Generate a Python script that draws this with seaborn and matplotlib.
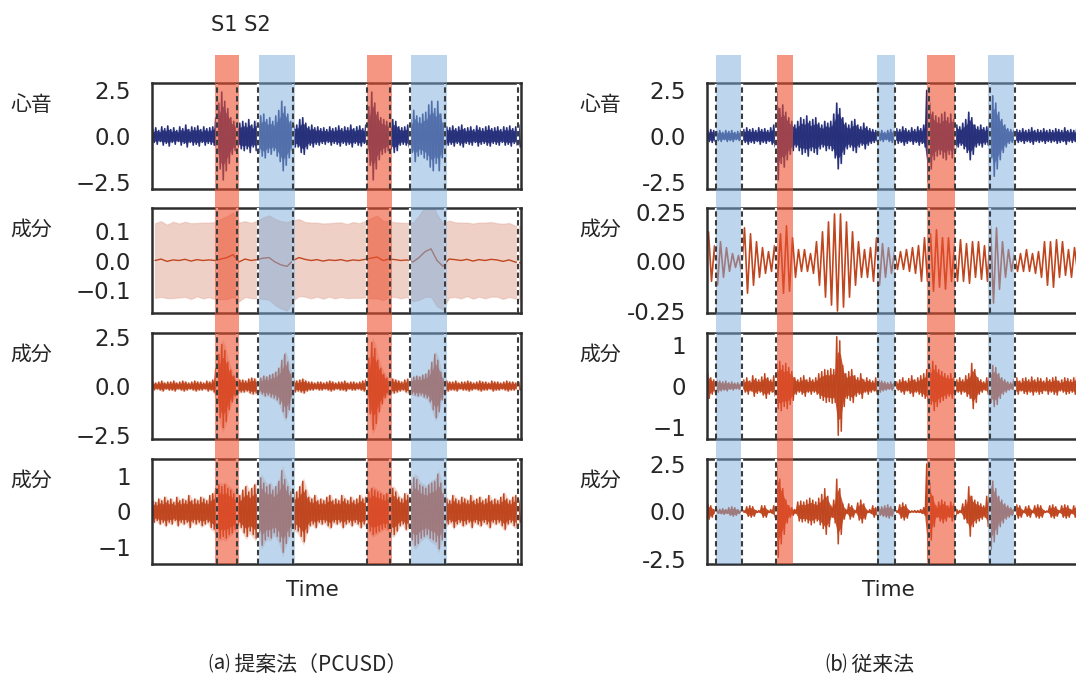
import numpy as np
import matplotlib
matplotlib.use("Agg")
import matplotlib.pyplot as plt
import seaborn as sns

# ------------------------------------------------------------------ data
# envelope (peak amplitude per 0.03 s bin)
left_heart = [0.35,0.45,0.3,0.5,0.4,0.55,0.35,0.45,0.3,0.5,0.4,0.6,0.35,0.5,0.45,0.55,0.35,0.5,0.4,0.45,0.5,
              1.0,1.8,2.4,1.9,1.5,1.0,0.8,0.6,0.7,
              0.8,0.7,0.9,0.6,0.8,0.9,
              1.1,1.2,0.9,1.0,0.8,1.1,1.4,1.9,1.6,1.2,0.8,0.6,
              0.6,0.9,1.0,0.7,0.5,0.6,0.45,0.5,0.4,0.45,0.35,0.5,0.4,0.45,0.55,0.4,0.5,0.45,0.6,0.4,0.5,0.55,0.4,0.6,
              1.6,2.4,1.8,1.3,1.0,0.9,0.8,0.7,
              0.9,0.8,0.5,0.45,0.5,0.6,
              0.9,1.4,1.1,1.0,1.2,1.3,1.7,1.9,1.5,1.9,1.2,0.7,
              0.5,0.45,0.55,0.4,0.5,0.6,0.4,0.45,0.5,0.35,0.55,0.45,0.4,0.5,0.55,0.4,0.45,0.5,0.35,0.5,0.45,0.55,0.4,0.5,0.6]
left_comp_mean = [0.0,0.005,-0.003,0.002,0.0,0.004,-0.002,0.003,0.0,0.002,0.0,0.005,0.01,0.02,-0.005,0.005,
                  0.0,0.003,0.008,0.01,-0.005,-0.015,-0.02,0.0,0.01,0.004,0.0,0.003,-0.002,0.002,0.0,0.003,
                  -0.002,0.002,0.0,0.004,0.008,0.012,0.0,0.005,0.003,0.0,0.002,-0.005,0.01,0.03,0.04,0.0,
                  -0.02,0.005,0.003,0.0,0.004,-0.002,0.003,0.0,0.004,0.002,-0.003,0.002,-0.005,-0.008]
left_comp_std = [0.128,0.13,0.126,0.131,0.127,0.129,0.13,0.126,0.13,0.128,0.132,0.138,0.142,0.145,0.135,0.13,
                 0.129,0.133,0.14,0.145,0.148,0.15,0.152,0.138,0.132,0.128,0.13,0.127,0.129,0.126,0.13,0.128,
                 0.127,0.13,0.128,0.131,0.138,0.142,0.136,0.13,0.128,0.13,0.127,0.135,0.145,0.155,0.165,0.158,
                 0.148,0.132,0.128,0.13,0.126,0.129,0.127,0.13,0.128,0.126,0.129,0.127,0.125,0.126]
left_comp1 = [0.2,0.15,0.2,0.25,0.15,0.2,0.2,0.25,0.15,0.2,0.25,0.2,0.15,0.2,0.25,0.2,0.2,0.15,0.25,0.2,0.3,
              0.9,1.6,2.1,1.8,1.2,0.8,0.5,0.35,0.3,
              0.3,0.25,0.35,0.4,0.35,0.3,
              0.4,0.5,0.45,0.55,0.6,0.7,0.9,1.3,1.6,1.2,0.6,0.3,
              0.25,0.3,0.35,0.25,0.2,0.2,0.15,0.2,0.2,0.15,0.2,0.25,0.2,0.15,0.2,0.2,0.25,0.15,0.2,0.2,0.15,0.2,0.25,0.3,
              1.4,2.2,1.9,1.3,0.9,0.6,0.4,0.35,
              0.35,0.3,0.25,0.2,0.3,0.35,
              0.4,0.45,0.5,0.45,0.55,0.6,0.8,1.2,1.6,1.3,0.7,0.35,
              0.25,0.2,0.2,0.25,0.15,0.2,0.2,0.25,0.2,0.15,0.2,0.25,0.2,0.2,0.15,0.25,0.2,0.2,0.15,0.2,0.25,0.2,0.2,0.15,0.2]
left_comp2 = [0.3,0.25,0.35,0.3,0.4,0.3,0.35,0.25,0.4,0.3,0.35,0.3,0.45,0.3,0.35,0.3,0.4,0.35,0.3,0.45,0.5,
              0.65,0.75,0.7,0.75,0.65,0.6,0.5,0.4,0.45,
              0.6,0.7,0.55,0.65,0.75,0.6,
              0.95,0.8,0.7,0.75,0.6,0.7,0.85,1.15,0.9,0.7,0.55,0.5,
              0.55,0.7,0.85,0.6,0.4,0.35,0.45,0.3,0.35,0.3,0.4,0.45,0.3,0.35,0.3,0.45,0.35,0.3,0.4,0.3,0.35,0.45,0.35,0.4,
              0.55,0.65,0.6,0.55,0.5,0.45,0.5,0.6,
              0.65,0.55,0.4,0.35,0.5,0.45,
              0.8,0.95,0.9,0.75,0.7,0.65,0.75,0.8,0.85,1.05,0.8,0.5,
              0.35,0.3,0.45,0.35,0.3,0.4,0.35,0.3,0.45,0.3,0.35,0.4,0.3,0.35,0.45,0.3,0.35,0.3,0.4,0.5,0.35,0.3,0.4,0.45,0.3]

right_heart = [0.3,0.35,0.3,
               0.25,0.3,0.2,0.3,0.25,0.3,0.2,0.25,0.3,
               0.35,0.45,0.35,0.4,0.3,0.45,0.35,0.4,0.3,0.45,0.6,
               2.4,1.5,1.7,1.3,1.0,0.8,
               0.6,0.8,1.0,0.9,1.1,0.8,0.9,1.0,0.7,0.6,0.8,0.7,
               0.8,1.2,1.8,1.5,1.0,
               0.7,0.6,0.8,0.9,0.6,0.5,0.7,0.5,0.4,0.35,0.3,
               0.25,0.3,0.2,0.3,0.35,0.25,
               0.4,0.35,0.5,0.4,0.3,0.45,0.35,0.5,0.4,0.6,
               2.5,1.8,1.3,1.1,1.0,1.2,1.3,1.0,1.2,0.9,
               0.6,0.5,0.7,0.9,1.3,1.0,0.6,0.5,0.6,0.45,
               0.5,1.2,2.2,1.8,1.3,0.9,0.6,0.4,0.35,
               0.3,0.35,0.3,0.4,0.3,0.35,0.45,0.3,0.35,0.3,0.4,0.3,0.35,0.3,0.4,0.35,0.3,0.45,0.3,0.35,0.3,0.4,0.35]
right_comp_a = [0.15,0.1,0.08,
                0.12,0.1,0.08,0.07,0.05,0.04,0.03,0.03,0.05,
                0.17,0.16,0.14,0.12,0.1,0.08,0.07,0.06,0.05,0.05,0.08,
                0.1,0.14,0.16,0.18,0.15,0.12,
                0.08,0.06,0.05,0.06,0.05,0.04,0.06,0.1,0.12,0.15,0.18,0.2,
                0.22,0.24,0.25,0.24,0.23,
                0.2,0.18,0.15,0.12,0.1,0.08,0.06,0.08,0.07,0.1,0.12,
                0.12,0.09,0.08,0.07,0.06,0.05,
                0.04,0.05,0.04,0.06,0.05,0.07,0.06,0.08,0.1,0.12,
                0.1,0.14,0.15,0.16,0.13,0.12,0.14,0.12,0.1,0.08,
                0.1,0.11,0.1,0.09,0.11,0.1,0.08,0.1,0.09,0.08,
                0.1,0.18,0.21,0.17,0.14,0.1,0.08,0.06,0.05,
                0.04,0.05,0.04,0.05,0.06,0.05,0.04,0.06,0.05,0.08,0.1,0.12,0.1,0.13,0.11,0.08,0.1,0.07,0.06,0.08,0.07,0.05,0.06]
right_comp_b = [0.3,0.2,0.15,
                0.15,0.12,0.1,0.12,0.08,0.1,0.07,0.08,0.06,
                0.15,0.2,0.12,0.25,0.18,0.15,0.22,0.3,0.2,0.15,0.25,
                0.55,0.6,0.5,0.55,0.45,0.35,
                0.2,0.15,0.2,0.25,0.15,0.2,0.15,0.2,0.3,0.35,0.4,0.38,
                0.42,0.4,1.2,1.1,0.5,
                0.3,0.35,0.4,0.25,0.2,0.3,0.15,0.2,0.15,0.12,0.2,
                0.15,0.12,0.1,0.08,0.1,0.06,
                0.1,0.15,0.2,0.12,0.18,0.25,0.15,0.2,0.25,0.3,
                0.4,0.45,0.6,0.5,0.4,0.35,0.3,0.25,0.3,0.2,
                0.15,0.2,0.15,0.25,0.3,0.55,0.4,0.2,0.15,0.1,
                0.2,0.4,0.5,0.45,0.3,0.2,0.15,0.1,0.08,
                0.15,0.2,0.12,0.18,0.2,0.15,0.22,0.15,0.2,0.18,0.12,0.2,0.15,0.2,0.22,0.12,0.15,0.2,0.18,0.15,0.2,0.25,0.2]
right_comp_c = [0.4,0.3,0.1,
                0.1,0.12,0.15,0.1,0.2,0.25,0.2,0.1,0.05,
                0.05,0.25,0.3,0.25,0.05,0.05,0.3,0.3,0.05,0.1,0.3,
                2.4,1.7,1.2,0.6,0.3,0.2,
                0.1,0.5,0.55,0.5,0.6,0.7,0.6,0.5,0.7,0.9,1.2,0.8,
                0.3,0.6,1.7,1.2,0.4,
                0.1,0.4,0.3,0.05,0.45,0.6,0.4,0.05,0.1,0.3,0.2,
                0.2,0.25,0.3,0.35,0.25,0.1,
                0.05,0.35,0.45,0.35,0.05,0.03,0.05,0.05,0.1,0.2,
                2.5,1.5,0.8,0.3,0.5,0.6,0.5,0.3,0.5,0.4,
                0.1,0.05,0.4,0.6,1.3,0.8,0.6,0.5,0.4,0.3,
                0.8,2.0,1.6,1.2,0.8,0.6,0.4,0.3,0.2,
                0.1,0.35,0.3,0.05,0.25,0.3,0.05,0.3,0.35,0.3,0.05,0.03,0.3,0.35,0.25,0.05,0.3,0.35,0.3,0.1,0.3,0.35,0.3]

# segments (seconds)
left_s1 = [(0.63, 0.87), (2.15, 2.40)]
left_s2 = [(1.07, 1.43), (2.59, 2.95)]
left_bounds = [0.65, 0.85, 1.06, 1.41, 2.15, 2.38, 2.58, 2.93, 3.66]
right_s1 = [(0.70, 0.86), (2.20, 2.48)]
right_s2 = [(0.09, 0.34), (1.70, 1.88), (2.81, 3.07)]
right_bounds = [0.09, 0.35, 0.69, 1.71, 1.88, 2.22, 2.48, 2.83, 3.08]

row_names = ["心音", "成分", "成分", "成分"]
left_ylims = [(-2.9, 2.9), (-0.18, 0.18), (-2.68, 2.68), (-1.48, 1.48)]
left_ticks = [[-2.5, 0, 2.5], [-0.1, 0, 0.1], [-2.5, 0, 2.5], [-1, 0, 1]]
left_ticklabels = [["−2.5", "0.0", "2.5"], ["−0.1", "0.0", "0.1"], ["−2.5", "0.0", "2.5"], ["−1", "0", "1"]]
right_ylims = [(-2.9, 2.9), (-0.26, 0.27), (-1.29, 1.29), (-2.76, 2.76)]
right_ticks = [[-2.5, 0, 2.5], [-0.25, 0, 0.25], [-1, 0, 1], [-2.5, 0, 2.5]]
right_ticklabels = [["-2.5", "0.0", "2.5"], ["-0.25", "0.00", "0.25"], ["−1", "0", "1"], ["-2.5", "0.0", "2.5"]]
captions = ["⒜ 提案法（PCUSD）", "⒝ 従来法"]

# ------------------------------------------------------------------ style
sns.set_theme(style="white")
plt.rcParams['font.family'] = ['DejaVu Sans', 'Noto Sans CJK JP']
CJK = ['Noto Sans CJK JP', 'DejaVu Sans']
NAVY = "#27307a"
RUST = "#c0461f"
RED_BAND = "#ed502f"
BLUE_BAND = "#7dafdd"
FRAME = "#2e2e2e"
TXT = "#262626"

W, H = 1076, 678
fig = plt.figure(figsize=(W / 100, H / 100), dpi=100)

rows_px = [(83, 189), (208, 313), (333, 439), (459, 564)]
BAND_TOP = 55
STEP = 0.03


def waveform(env, minmax=True):
    env = np.asarray(env, float)
    t = STEP / 2 + STEP * np.arange(len(env))
    if minmax:
        x = np.column_stack([t - STEP / 4, t + STEP / 4]).ravel()
        y = np.column_stack([env, -env]).ravel()
    else:
        x = t
        y = env * np.where(np.arange(len(env)) % 2 == 0, 1, -1)
    return x, y


def make_panel(x_left_px, x_right_px, xmax, traces, ylims, ticks, ticklabels,
               s1, s2, bounds, label_x_px, time_x_px, caption, caption_x_px):
    axes = []
    for r, (top, bot) in enumerate(rows_px):
        ax = fig.add_axes([x_left_px / W, 1 - bot / H, (x_right_px - x_left_px) / W, (bot - top) / H])
        ax.set_xlim(0, xmax)
        ax.set_ylim(*ylims[r])
        ax.set_xticks([])
        ax.set_yticks(ticks[r])
        ax.set_yticklabels(ticklabels[r])
        ax.tick_params(axis='y', length=0, pad=15, labelsize=16.5, labelcolor=TXT)
        for s in ax.spines.values():
            s.set_color(FRAME)
            s.set_linewidth(1.8)
        traces[r](ax)
        for b in bounds:
            ax.axvline(b, color="white", lw=1.6, zorder=4)
        fig.text(label_x_px / W, 1 - (top + 22) / H, row_names[r], family=CJK,
                 fontsize=15, ha='center', va='center', color=TXT)
        axes.append(ax)

    ov = fig.add_axes([x_left_px / W, 1 - rows_px[-1][1] / H, (x_right_px - x_left_px) / W,
                       (rows_px[-1][1] - BAND_TOP) / H], zorder=10)
    ov.set_xlim(0, xmax)
    ov.set_ylim(0, 1)
    ov.axis('off')
    ov.patch.set_visible(False)
    for a, b in s1:
        ov.axvspan(a, b, color=RED_BAND, alpha=0.6, lw=0)
    for a, b in s2:
        ov.axvspan(a, b, color=BLUE_BAND, alpha=0.5, lw=0)
    ov_y0 = 1 - rows_px[-1][1] / H
    ov_h = (rows_px[-1][1] - BAND_TOP) / H
    for ax in axes:
        p = ax.get_position()
        y0 = (p.y0 - ov_y0) / ov_h
        y1 = (p.y1 - ov_y0) / ov_h
        ov.vlines(bounds, y0, y1, colors="#3c3c3c", lw=1.5, linestyles=(0, (2.6, 1.6)))

    fig.text(time_x_px / W, 1 - 590 / H, "Time", fontsize=15.5, ha='center', va='center', color=TXT)
    fig.text(caption_x_px / W, 1 - 665 / H, caption, family=CJK, fontsize=15,
             ha='center', va='center', color=TXT)
    return axes


def draw_wave(env, color, minmax=True, halo=False, lw=1.0, core=0.7):
    def f(ax):
        x, y = waveform(env, minmax)
        t = STEP / 2 + STEP * np.arange(len(env))
        e = np.asarray(env, float)
        if halo:
            ax.fill_between(t, -e * 1.12, e * 1.12, color=color, alpha=0.22, lw=0)
        if minmax:
            ax.fill_between(t, -e * core, e * core, color=color, alpha=0.9, lw=0)
        sns.lineplot(x=x, y=y, ax=ax, color=color, lw=lw, sort=False, estimator=None)
    return f


def draw_mean_band(ax):
    m = np.asarray(left_comp_mean)
    s = np.asarray(left_comp_std)
    t = 0.03 + 0.06 * np.arange(len(m))
    ax.fill_between(t, m - s, m + s, color=RUST, alpha=0.25, lw=1.0, edgecolor=(0.85, 0.55, 0.48, 0.6))
    sns.lineplot(x=t, y=m, ax=ax, color=RUST, lw=1.0, sort=False, estimator=None)


left_traces = [draw_wave(left_heart, NAVY, lw=1.2), draw_mean_band,
               draw_wave(left_comp1, RUST, halo=True, lw=1.1), draw_wave(left_comp2, RUST, halo=True, lw=1.1)]
right_traces = [draw_wave(right_heart, NAVY, lw=1.2), draw_wave(right_comp_a, RUST, minmax=False, lw=1.2),
                draw_wave(right_comp_b, RUST, lw=1.1), draw_wave(right_comp_c, RUST, lw=1.1)]

make_panel(152, 521, 3.69, left_traces, left_ylims, left_ticks, left_ticklabels,
           left_s1, left_s2, left_bounds, 31, 312, captions[0], 308)
make_panel(707, 1082, 3.75, right_traces, right_ylims, right_ticks, right_ticklabels,
           right_s1, right_s2, right_bounds, 600, 888, captions[1], 870)

fig.text(241 / W, 1 - 25 / H, "S1 S2", fontsize=15, ha='center', va='center', color=TXT)

fig.savefig("out.png", dpi=100, facecolor="white")
